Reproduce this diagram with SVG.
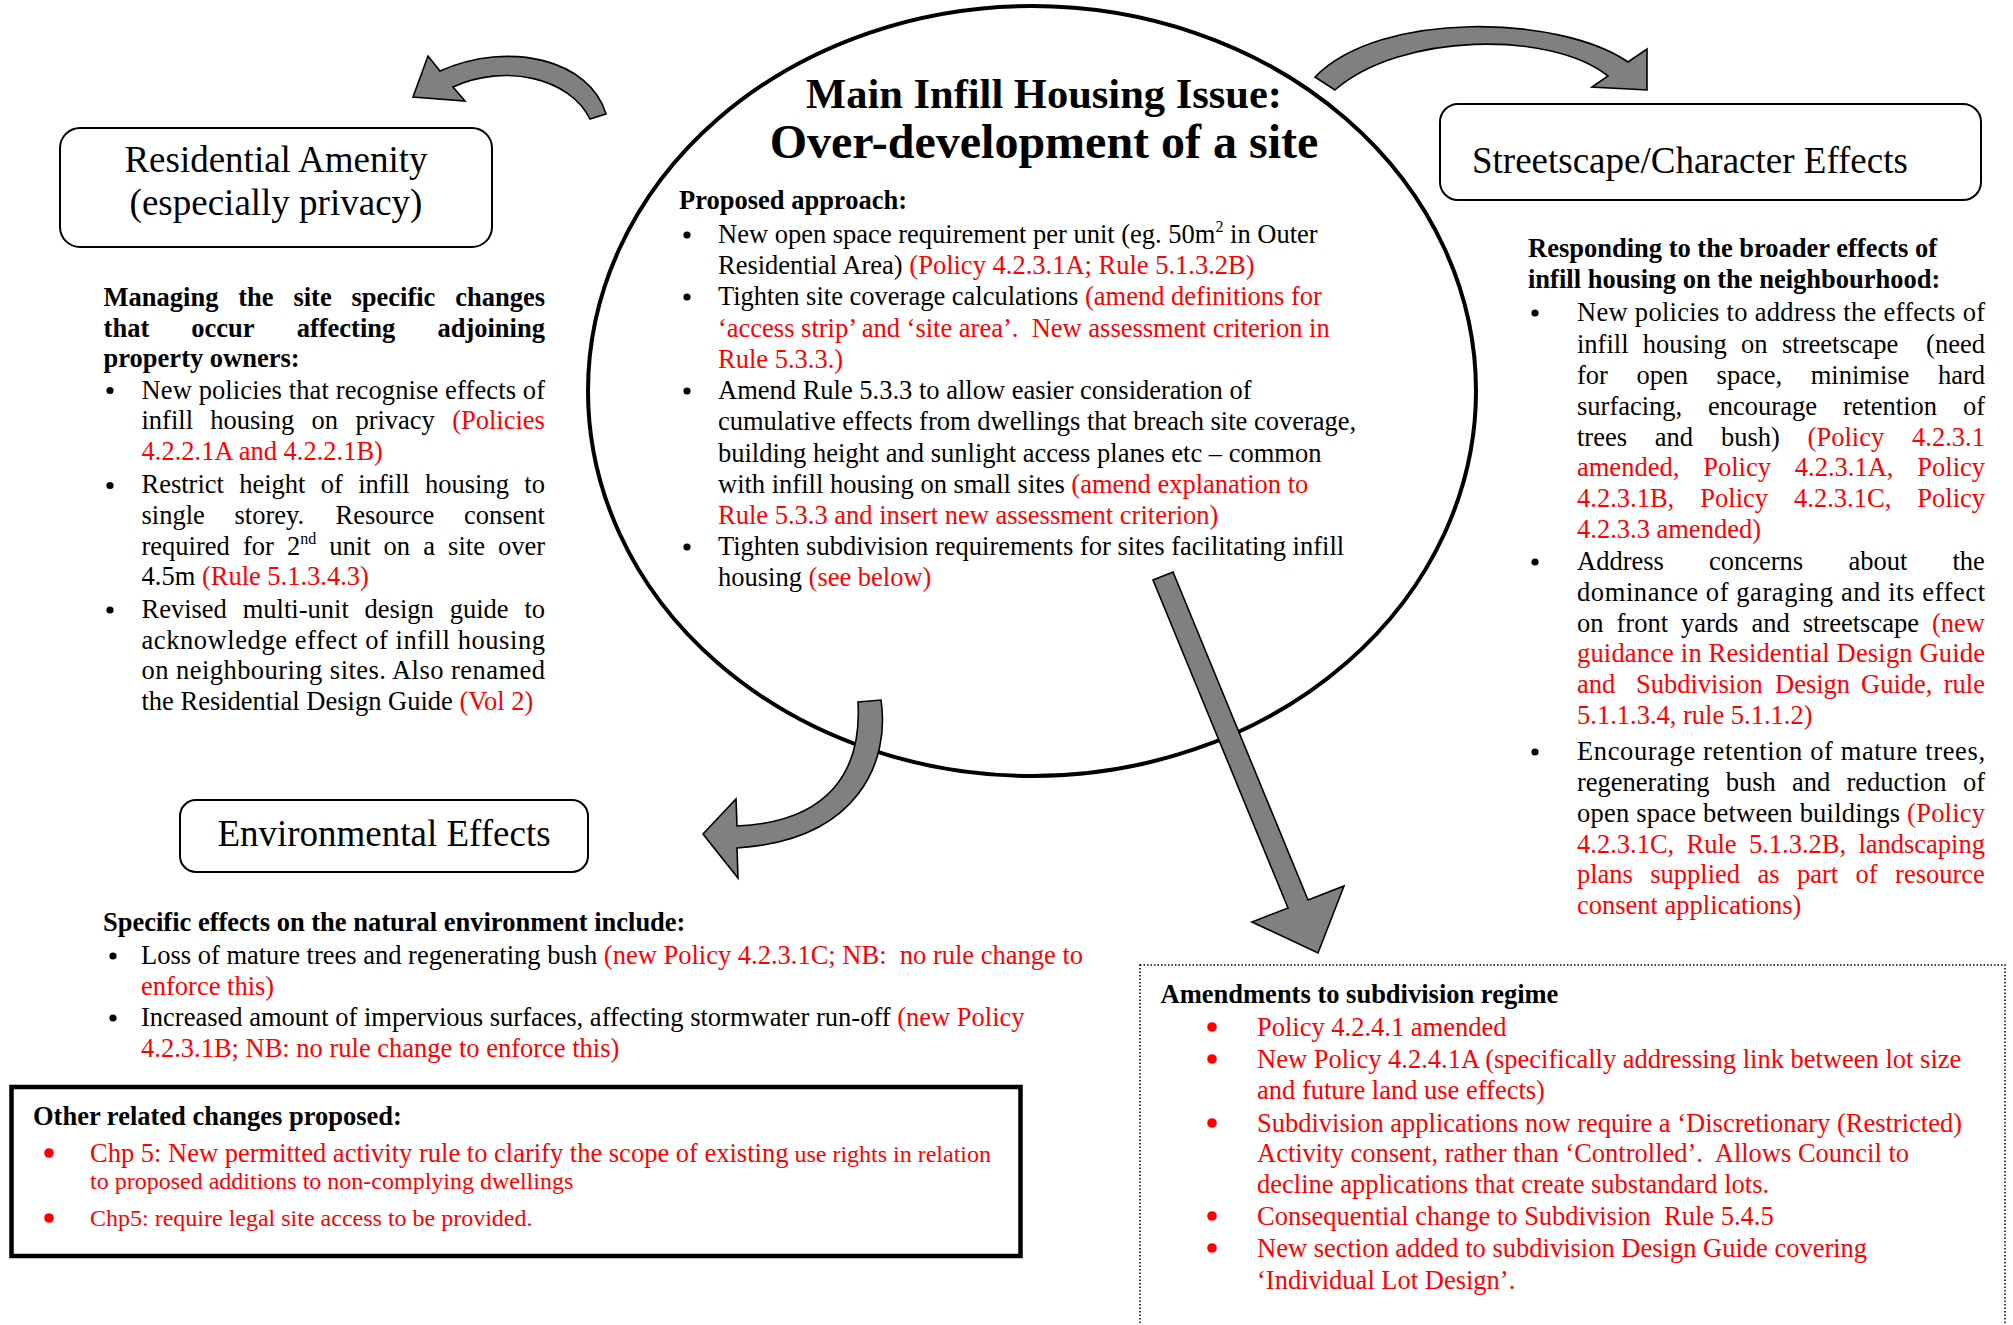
<svg xmlns="http://www.w3.org/2000/svg" width="2013" height="1325" viewBox="0 0 2013 1325" xml:space="preserve">
<style>
.t{font-family:"Liberation Serif","Times New Roman",serif;font-size:26.5px;fill:#000;white-space:pre}
.b{font-weight:bold}
.r{fill:#ff0000}
.s{font-size:24px}
.sup{font-size:16px}
.h1{font-size:42.5px}
.h2{font-size:48px}
.lbl{font-family:"Liberation Serif","Times New Roman",serif;font-size:37px;fill:#000}
.box{fill:#fff;stroke:#000;stroke-width:2}
.arrow{fill:#808080;stroke:#000;stroke-width:1.6;stroke-linejoin:miter}
.dot{fill:#000}
.rdot{fill:#ff0000}
</style>
<rect width="2013" height="1325" fill="#fff"/>

<g id="main-issue">
<ellipse cx="1032" cy="391" rx="444" ry="385" fill="none" stroke="#000" stroke-width="4"/>
<text class="t b h1" x="1044" y="108" text-anchor="middle">Main Infill Housing Issue:</text>
<text class="t b h2" x="1044" y="158" text-anchor="middle">Over-development of a site</text>
<text class="t b" x="679" y="209">Proposed approach:</text>
<circle class="dot" cx="687" cy="235" r="3.6"/>
<text class="t" x="718" y="243">New open space requirement per unit (eg. 50m<tspan class="sup" dy="-11">2</tspan><tspan dy="11"> in Outer</tspan></text>
<text class="t" x="718" y="274">Residential Area) <tspan class="r">(Policy 4.2.3.1A; Rule 5.1.3.2B)</tspan></text>
<circle class="dot" cx="687" cy="297" r="3.6"/>
<text class="t" x="718" y="305">Tighten site coverage calculations <tspan class="r">(amend definitions for</tspan></text>
<text class="t r" x="718" y="337">‘access strip’ and ‘site area’.  New assessment criterion in</text>
<text class="t r" x="718" y="368">Rule 5.3.3.)</text>
<circle class="dot" cx="687" cy="391" r="3.6"/>
<text class="t" x="718" y="399">Amend Rule 5.3.3 to allow easier consideration of</text>
<text class="t" x="718" y="430">cumulative effects from dwellings that breach site coverage,</text>
<text class="t" x="718" y="462">building height and sunlight access planes etc – common</text>
<text class="t" x="718" y="493">with infill housing on small sites <tspan class="r">(amend explanation to</tspan></text>
<text class="t r" x="718" y="524">Rule 5.3.3 and insert new assessment criterion)</text>
<circle class="dot" cx="687" cy="547" r="3.6"/>
<text class="t" x="718" y="555">Tighten subdivision requirements for sites facilitating infill</text>
<text class="t" x="718" y="586">housing <tspan class="r">(see below)</tspan></text>
</g>

<g id="residential-amenity">
<rect class="box" x="60" y="128" width="432" height="119" rx="20"/>
<text class="lbl" x="276" y="172" text-anchor="middle">Residential Amenity</text>
<text class="lbl" x="276" y="215" text-anchor="middle">(especially privacy)</text>
<text class="t b" y="305.5"><tspan x="103.6">Managing</tspan><tspan x="238.3">the</tspan><tspan x="293.4">site</tspan><tspan x="351.5">specific</tspan><tspan x="455.2">changes</tspan></text>
<text class="t b" y="336.5"><tspan x="103.6">that</tspan><tspan x="191.3">occur</tspan><tspan x="296.7">affecting</tspan><tspan x="437.4">adjoining</tspan></text>
<text class="t b" x="103.6" y="367.3">property owners:</text>
<circle class="dot" cx="110" cy="390.5" r="3.6"/>
<text class="t" x="141.5" y="398.5" textLength="403.5" lengthAdjust="spacing">New policies that recognise effects of</text>
<text class="t" y="429.4"><tspan x="141.5">infill</tspan><tspan x="210.3">housing</tspan><tspan x="311.6">on</tspan><tspan x="355.4">privacy</tspan><tspan class="r" x="452.2">(Policies</tspan></text>
<text class="t r" x="141.5" y="459.8">4.2.2.1A and 4.2.2.1B)</text>
<circle class="dot" cx="110" cy="485.5" r="3.6"/>
<text class="t" y="493.4"><tspan x="141.5">Restrict</tspan><tspan x="239.2">height</tspan><tspan x="320.8">of</tspan><tspan x="358.2">infill</tspan><tspan x="425">housing</tspan><tspan x="524.3">to</tspan></text>
<text class="t" y="524.3"><tspan x="141.5">single</tspan><tspan x="234.5">storey.</tspan><tspan x="335.6">Resource</tspan><tspan x="463.9">consent</tspan></text>
<text class="t" y="554.7"><tspan x="141.5">required</tspan><tspan x="242.9">for</tspan><tspan x="286.9">2</tspan><tspan class="sup" dy="-11">nd</tspan><tspan x="329.3" y="554.7">unit</tspan><tspan x="383.6">on</tspan><tspan x="423.2">a</tspan><tspan x="448.1">site</tspan><tspan x="498">over</tspan></text>
<text class="t" x="141.5" y="585.2">4.5m <tspan class="r">(Rule 5.1.3.4.3)</tspan></text>
<circle class="dot" cx="110" cy="610" r="3.6"/>
<text class="t" y="618"><tspan x="141.5">Revised</tspan><tspan x="242.75">multi-unit</tspan><tspan x="364.6">design</tspan><tspan x="449.65">guide</tspan><tspan x="524.4">to</tspan></text>
<text class="t" x="141.5" y="648.8" textLength="403.5" lengthAdjust="spacing">acknowledge effect of infill housing</text>
<text class="t" x="141.5" y="679.3" textLength="403.5" lengthAdjust="spacing">on neighbouring sites. Also renamed</text>
<text class="t" x="141.5" y="709.7">the Residential Design Guide <tspan class="r">(Vol 2)</tspan></text>
</g>

<g id="streetscape">
<rect class="box" x="1440" y="104" width="541" height="96" rx="18"/>
<text class="lbl" x="1472" y="173">Streetscape/Character Effects</text>
<text class="t b" x="1528" y="257">Responding to the broader effects of</text>
<text class="t b" x="1528" y="288">infill housing on the neighbourhood:</text>
<circle class="dot" cx="1535" cy="313" r="3.6"/>
<text class="t" x="1577" y="321" textLength="408" lengthAdjust="spacing">New policies to address the effects of</text>
<text class="t" y="353"><tspan x="1577">infill</tspan><tspan x="1642.8">housing</tspan><tspan x="1741.1">on</tspan><tspan x="1782">streetscape</tspan><tspan x="1926.1">(need</tspan></text>
<text class="t" y="384"><tspan x="1577">for</tspan><tspan x="1636.5">open</tspan><tspan x="1716.6">space,</tspan><tspan x="1810.7">minimise</tspan><tspan x="1938">hard</tspan></text>
<text class="t" y="415"><tspan x="1577">surfacing,</tspan><tspan x="1708.1">encourage</tspan><tspan x="1842.9">retention</tspan><tspan x="1963">of</tspan></text>
<text class="t" y="445.5"><tspan x="1577">trees</tspan><tspan x="1654.8">and</tspan><tspan x="1720.9">bush)</tspan><tspan class="r" x="1807.6">(Policy</tspan><tspan class="r" x="1912">4.2.3.1</tspan></text>
<text class="t r" y="476"><tspan x="1577">amended,</tspan><tspan x="1703.2">Policy</tspan><tspan x="1794.8">4.2.3.1A,</tspan><tspan x="1917.3">Policy</tspan></text>
<text class="t r" y="507"><tspan x="1577">4.2.3.1B,</tspan><tspan x="1700.3">Policy</tspan><tspan x="1794.1">4.2.3.1C,</tspan><tspan x="1917.3">Policy</tspan></text>
<text class="t r" x="1577" y="538">4.2.3.3 amended)</text>
<circle class="dot" cx="1535" cy="562" r="3.6"/>
<text class="t" y="570"><tspan x="1577">Address</tspan><tspan x="1709">concerns</tspan><tspan x="1848.4">about</tspan><tspan x="1952.5">the</tspan></text>
<text class="t" x="1577" y="601" textLength="408" lengthAdjust="spacing">dominance of garaging and its effect</text>
<text class="t" y="632"><tspan x="1577">on</tspan><tspan x="1616.5">front</tspan><tspan x="1681">yards</tspan><tspan x="1751.4">and</tspan><tspan x="1802.7">streetscape</tspan><tspan class="r" x="1932">(new</tspan></text>
<text class="t r" x="1577" y="662" textLength="408" lengthAdjust="spacing">guidance in Residential Design Guide</text>
<text class="t r" y="693"><tspan x="1577">and</tspan><tspan x="1636">Subdivision</tspan><tspan x="1775">Design</tspan><tspan x="1861">Guide,</tspan><tspan x="1943.8">rule</tspan></text>
<text class="t r" x="1577" y="724">5.1.1.3.4, rule 5.1.1.2)</text>
<circle class="dot" cx="1535" cy="752" r="3.6"/>
<text class="t" x="1577" y="760" textLength="408" lengthAdjust="spacing">Encourage retention of mature trees,</text>
<text class="t" y="791"><tspan x="1577">regenerating</tspan><tspan x="1725.7">bush</tspan><tspan x="1792">and</tspan><tspan x="1846.5">reduction</tspan><tspan x="1962.9">of</tspan></text>
<text class="t" x="1577" y="822" textLength="408" lengthAdjust="spacing">open space between buildings <tspan class="r">(Policy</tspan></text>
<text class="t r" y="852.5"><tspan x="1577">4.2.3.1C,</tspan><tspan x="1686.5">Rule</tspan><tspan x="1748.9">5.1.3.2B,</tspan><tspan x="1858.4">landscaping</tspan></text>
<text class="t r" y="883"><tspan x="1577">plans</tspan><tspan x="1650.3">supplied</tspan><tspan x="1757.5">as</tspan><tspan x="1797">part</tspan><tspan x="1855.6">of</tspan><tspan x="1895.1">resource</tspan></text>
<text class="t r" x="1577" y="914">consent applications)</text>
</g>

<g id="environmental-effects">
<rect class="box" x="180" y="800" width="408" height="72" rx="16"/>
<text class="lbl" x="384" y="846" text-anchor="middle">Environmental Effects</text>
<text class="t b" x="103" y="931">Specific effects on the natural environment include:</text>
<circle class="dot" cx="113" cy="956" r="3.6"/>
<text class="t" x="141" y="964">Loss of mature trees and regenerating bush <tspan class="r">(new Policy 4.2.3.1C; NB:  no rule change to</tspan></text>
<text class="t r" x="141" y="995">enforce this)</text>
<circle class="dot" cx="113" cy="1018" r="3.6"/>
<text class="t" x="141" y="1026">Increased amount of impervious surfaces, affecting stormwater run-off <tspan class="r">(new Policy</tspan></text>
<text class="t r" x="141" y="1057">4.2.3.1B; NB: no rule change to enforce this)</text>
</g>

<g id="other-changes">
<rect x="11.5" y="1087" width="1009" height="169" fill="#fff" stroke="#000" stroke-width="4.5"/>
<text class="t b" x="33" y="1125">Other related changes proposed:</text>
<circle class="rdot" cx="49" cy="1153" r="4.8"/>
<text class="t r" x="90" y="1162">Chp 5: New permitted activity rule to clarify the scope of existing<tspan class="s"> use rights in relation</tspan></text>
<text class="t r s" x="90" y="1189">to proposed additions to non-complying dwellings</text>
<circle class="rdot" cx="49" cy="1218" r="4.8"/>
<text class="t r s" x="90" y="1226">Chp5: require legal site access to be provided.</text>
</g>

<g id="subdivision-regime">
<rect x="1140" y="965" width="865" height="420" fill="none" stroke="#000" stroke-width="1.5" stroke-dasharray="1.5 2"/>
<text class="t b" x="1160.6" y="1003">Amendments to subdivision regime</text>
<circle class="rdot" cx="1212" cy="1027" r="4.8"/>
<text class="t r" x="1257" y="1036">Policy 4.2.4.1 amended</text>
<circle class="rdot" cx="1212" cy="1059" r="4.8"/>
<text class="t r" x="1257" y="1068">New Policy 4.2.4.1A (specifically addressing link between lot size</text>
<text class="t r" x="1257" y="1099">and future land use effects)</text>
<circle class="rdot" cx="1212" cy="1123" r="4.8"/>
<text class="t r" x="1257" y="1132">Subdivision applications now require a ‘Discretionary (Restricted)</text>
<text class="t r" x="1257" y="1162">Activity consent, rather than ‘Controlled’.  Allows Council to</text>
<text class="t r" x="1257" y="1193">decline applications that create substandard lots.</text>
<circle class="rdot" cx="1212" cy="1216" r="4.8"/>
<text class="t r" x="1257" y="1225">Consequential change to Subdivision  Rule 5.4.5</text>
<circle class="rdot" cx="1212" cy="1248" r="4.8"/>
<text class="t r" x="1257" y="1257">New section added to subdivision Design Guide covering</text>
<text class="t r" x="1257" y="1289">‘Individual Lot Design’.</text>
</g>

<g id="connectors">
<path class="arrow" d="M 606,114 C 590,60 510,40 440,71 L 428,56 L 413,97 L 465,101 L 453,87 C 505,63 570,78 590,119 Z"/>
<path class="arrow" d="M 1315,77 C 1380,10 1560,15 1628,62 L 1647,49 L 1647,90 L 1592,87 L 1608,76 C 1550,30 1400,33 1335,90 Z"/>
<path class="arrow" d="M 858,702 L 881,700 C 890,760 860,840 737,848 L 738,878 L 703,834 L 736,799 L 737,826 C 830,822 862,770 858,702 Z"/>
<path class="arrow" d="M 1153,580 L 1173,572 L 1308,900 L 1344,886 L 1318,953 L 1252,922 L 1288,908 Z"/>
</g>
</svg>
